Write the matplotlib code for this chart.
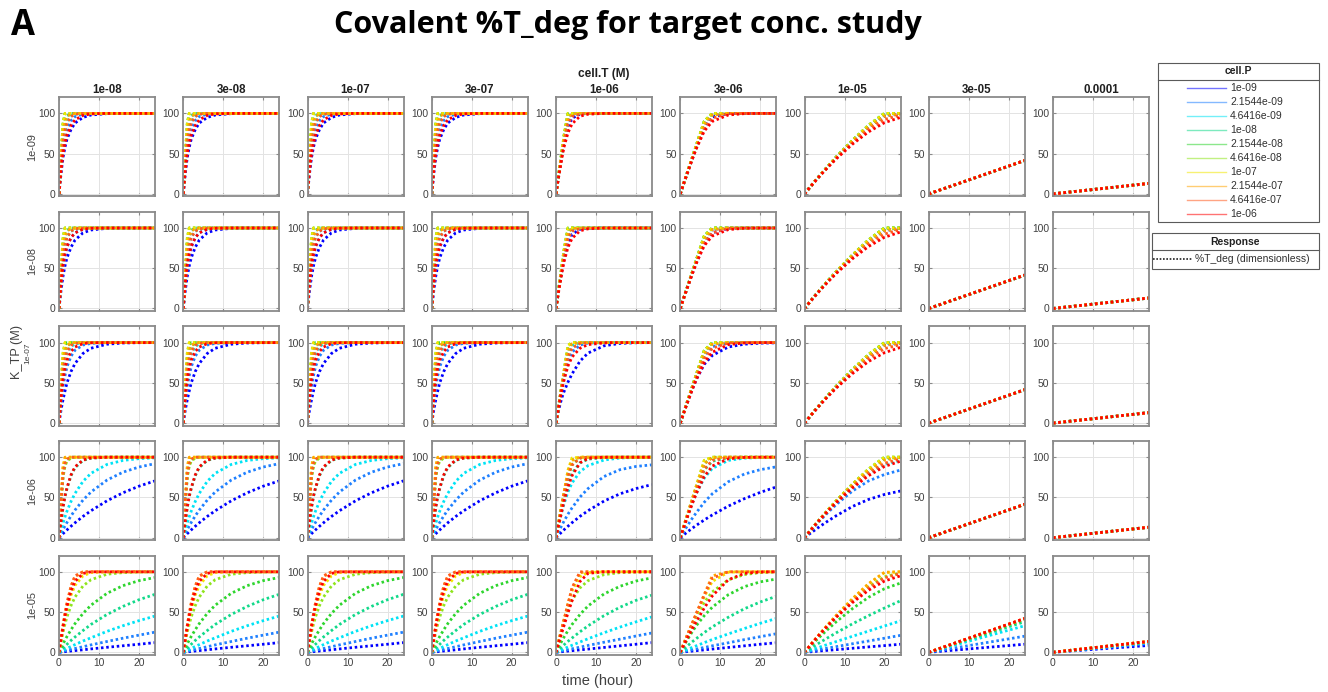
import matplotlib
matplotlib.use("Agg")
import matplotlib.pyplot as plt
from matplotlib.lines import Line2D
from matplotlib.patches import Rectangle

plt.rcParams['font.family'] = ['Liberation Sans', 'DejaVu Sans']

# ---------------- data ----------------
hours = [0, 0.5, 1, 1.5, 2, 3, 4, 6, 8, 12, 16, 20, 24]
cell_T = ['1e-08', '3e-08', '1e-07', '3e-07', '1e-06', '3e-06', '1e-05', '3e-05', '0.0001']
K_TP = ['1e-09', '1e-08', '1e-07', '1e-06', '1e-05']
cell_P = ['1e-09', '2.1544e-09', '4.6416e-09', '1e-08', '2.1544e-08',
          '4.6416e-08', '1e-07', '2.1544e-07', '4.6416e-07', '1e-06']
colors_P = ['#0000FF', '#1F80FF', '#00E3F5', '#12D98A', '#2ED52E',
            '#8EE41C', '#F2E600', '#FFA500', '#FF5A1E', '#FF0000']

# %T_deg at the hours above; a list that stops early stays at 100 afterwards
# columns cell.T = 1e-08 ... 3e-07
K1e9_Tlow = [
    [0, 25, 45, 58, 68, 80, 88, 95, 98, 99.7, 100],
    [0, 30, 55, 69, 80, 91, 96, 99, 100],
    [0, 37, 68, 83, 90, 97, 99, 100],
    [0, 42, 78, 93, 97, 100],
    [0, 45, 86, 100],
    [0, 46, 88, 100],
    [0, 45, 86, 100],
    [0, 42, 75, 89, 96, 99.5, 100],
    [0, 36, 62, 78, 88, 96, 99, 100],
    [0, 28, 50, 63, 73, 85, 92, 97.5, 99.3, 100],
]
K1e8_Tlow = [
    [0, 22, 40, 53, 63, 76, 85, 94, 97.5, 99.6, 100],
    [0, 28, 51, 65, 76, 88, 94, 98.5, 99.7, 100],
    [0, 35, 64, 80, 89, 96, 98.5, 100],
    [0, 41, 76, 91, 97, 100],
    [0, 45, 85, 100],
    [0, 46, 88, 100],
    [0, 45, 86, 100],
    [0, 42, 75, 89, 96, 99.5, 100],
    [0, 36, 62, 78, 88, 96, 99, 100],
    [0, 30, 53, 67, 77, 88, 94, 98.5, 99.6, 100],
]
K1e7_Tlow = [
    [0, 16, 29, 40, 50, 64, 74, 86.5, 93, 98, 99.5, 99.9, 100],
    [0, 25, 45, 59, 70, 83, 90.5, 97, 99, 100],
    [0, 34, 60, 76, 86, 95, 98.3, 100],
    [0, 40, 73, 89, 95.5, 99.3, 100],
    [0, 44, 83, 97, 100],
    [0, 46, 87, 100],
    [0, 45, 86, 100],
    [0, 42, 76, 90, 96.5, 99.5, 100],
    [0, 36, 63, 79, 89, 96.5, 99, 100],
    [0, 30, 53, 68, 78, 89, 94.5, 98.7, 99.7, 100],
]
K1e6_Tlow = [
    [0, 2.5, 5, 7.4, 9.7, 14.2, 18.5, 26.4, 33.5, 45.8, 55.8, 64, 70.6],
    [0, 5.1, 10, 14.6, 19, 27, 34.3, 46.7, 56.8, 71.6, 81.4, 87.8, 92],
    [0, 9.5, 18, 26, 33, 45, 55, 70, 80, 91, 96, 98.2, 99.2],
    [0, 19, 37, 51, 61, 77, 87, 96, 98.8, 100],
    [0, 40, 76, 91, 97, 100],
    [0, 45, 75, 89, 95, 99, 100],
    [0, 48, 87, 99, 100],
    [0, 47, 88, 100],
    [0, 42, 78, 92, 97.5, 100],
    [0, 20, 38, 52, 62, 78, 88, 96.5, 99, 100],
]
K1e5_Tlow = [
    [0, 0.27, 0.53, 0.8, 1.06, 1.6, 2.1, 3.1, 4.2, 6.2, 8.1, 10, 12],
    [0, 0.6, 1.2, 1.8, 2.4, 3.5, 4.7, 6.9, 9.2, 13.4, 17.5, 21.3, 25],
    [0, 1.2, 2.5, 3.7, 4.9, 7.2, 9.5, 14, 18, 26, 33, 39.3, 45],
    [0, 2.6, 5.2, 7.6, 10, 14.7, 19, 27, 34.6, 47, 57, 65.3, 72],
    [0, 5.4, 10.4, 15.2, 19.7, 28, 35.6, 48.3, 58.5, 73.3, 82.8, 89, 92.9],
    [0, 13.5, 25, 35, 44, 58, 68.6, 82.4, 90.2, 97, 99, 99.7, 99.9],
    [0, 15, 29, 42, 53, 71, 83, 95, 99, 100],
    [0, 17, 33, 48, 61, 82, 94, 100],
    [0, 17, 33, 48, 61, 82, 95, 100],
    [0, 16, 31, 45, 57, 76, 88, 98, 100],
]

# column cell.T = 1e-06
K1e9_T1e6 = [
    [0, 17, 33, 49, 63, 84, 94, 99, 100],
    [0, 17, 34, 50, 66, 89, 97, 99.7, 100],
    [0, 18, 35, 52, 69, 95, 99.5, 100],
    [0, 18, 36, 53, 71, 99, 100],
    [0, 18, 36, 54, 72, 100],
    [0, 18, 36, 54, 72, 100],
    [0, 18, 36, 54, 72, 100],
    [0, 17, 34, 51, 67, 94, 99.5, 100],
    [0, 17, 33, 49, 64, 87, 96, 99.5, 100],
    [0, 16, 31, 45, 58, 76, 87, 96.5, 99, 100],
]
K1e8_T1e6 = [
    [0, 17, 33, 48, 61, 81, 92, 98.5, 99.7, 100],
    [0, 17, 34, 50, 65, 87, 96, 99.5, 100],
    [0, 18, 35, 52, 69, 95, 99.5, 100],
    [0, 18, 36, 53, 71, 99, 100],
    [0, 18, 36, 54, 72, 100],
    [0, 18, 36, 54, 72, 100],
    [0, 18, 36, 54, 72, 100],
    [0, 17, 34, 51, 67, 94, 99.5, 100],
    [0, 17, 33, 49, 64, 87, 96, 99.5, 100],
    [0, 16, 31, 45, 58, 76, 87, 96.5, 99, 100],
]
K1e7_T1e6 = [
    [0, 12, 23, 32, 39, 51, 61, 77, 87, 96, 99, 99.8, 100],
    [0, 15, 29.5, 43, 55.5, 76, 88, 97, 99.4, 100],
    [0, 16, 31.5, 46.5, 61, 86, 96, 99.7, 100],
    [0, 16, 32, 47.5, 63, 92, 99.3, 100],
    [0, 16, 32, 48, 64, 96, 100],
    [0, 16, 32, 48, 64, 96.5, 100],
    [0, 16, 32, 48, 64, 96.5, 100],
    [0, 16, 32, 48, 63, 90, 98.5, 100],
    [0, 16, 31, 46, 59, 82, 93, 99, 100],
    [0, 15, 29, 42, 53, 71, 82, 93, 97.5, 99.6, 100],
]
K1e6_T1e6 = [
    [0, 2.5, 5, 7.4, 9.8, 14.3, 18.6, 26.5, 33.5, 45.5, 54.5, 61, 66],
    [0, 5.5, 10.8, 15.8, 20.5, 29.3, 37, 50.5, 61, 76, 84.5, 88.5, 90.5],
    [0, 12, 23, 33, 42, 57, 68, 82, 89.5, 96.5, 99, 99.7, 100],
    [0, 13, 26, 38, 49, 68, 80, 93, 97.5, 99.7, 100],
    [0, 14, 28, 42, 55, 78, 91, 99, 100],
    [0, 14, 28, 42, 56, 83, 97, 100],
    [0, 14, 28, 42, 56, 84, 99, 100],
    [0, 14, 28, 42, 56, 82, 96, 100],
    [0, 14, 27, 40, 53, 76, 90, 99, 100],
    [0, 12, 23, 34, 45, 63, 77, 93, 98.5, 100],
]
K1e5_T1e6 = [
    [0, 0.25, 0.5, 0.75, 1, 1.5, 2, 3, 4, 6, 8, 10, 12],
    [0, 0.55, 1.1, 1.6, 2.2, 3.2, 4.3, 6.4, 8.5, 12.5, 16.3, 20.2, 24],
    [0, 1.1, 2.2, 3.3, 4.4, 6.6, 8.7, 12.8, 16.8, 24.3, 31.3, 37.8, 44],
    [0, 2.4, 4.8, 7, 9.3, 13.6, 17.7, 25.5, 32.8, 45.5, 56, 64.5, 71],
    [0, 5, 9.8, 14.4, 18.8, 27, 34.5, 47, 57.5, 72.5, 82, 88.5, 92.5],
    [0, 11, 21, 30, 38.5, 53, 64.5, 80, 89, 96.5, 99, 99.7, 100],
    [0, 10, 20, 30, 40, 60, 76, 94, 99, 100],
    [0, 10, 20, 30, 40, 60, 79, 99, 100],
    [0, 10, 20, 30, 40, 60, 80, 100],
    [0, 8.5, 17, 25, 33, 49, 64, 88, 98, 100],
]

# column cell.T = 3e-06
K1e9_T3e6 = [
    [0, 7.3, 14.5, 21.8, 29, 43.5, 57.5, 83, 95.5, 99.8, 100],
    [0, 7.5, 15, 22.5, 30, 44.5, 59, 86.5, 98, 100],
    [0, 7.5, 15, 22.5, 30, 45, 60, 89, 99.7, 100],
    [0, 7.5, 15, 22.5, 30, 45, 60, 90, 100],
    [0, 7.5, 15, 22.5, 30, 45, 60, 90, 100],
    [0, 7.5, 15, 22.5, 30, 45, 60, 90, 100],
    [0, 7.5, 15, 22.5, 30, 45, 60, 90, 100],
    [0, 7.5, 15, 22.3, 29.7, 44.5, 59, 86, 98, 100],
    [0, 7.3, 14.5, 21.8, 29, 43, 56.5, 80, 94, 99.7, 100],
    [0, 7.5, 15, 22, 29, 43, 56, 78, 90, 98, 99.7, 100],
]
K1e8_T3e6 = [
    [0, 7.3, 14.5, 21.7, 28.8, 43, 56.5, 81, 94, 99.5, 100],
    [0, 7.5, 15, 22.5, 30, 44.5, 59, 86.5, 98, 100],
    [0, 7.5, 15, 22.5, 30, 45, 60, 89, 99.7, 100],
    [0, 7.5, 15, 22.5, 30, 45, 60, 90, 100],
    [0, 7.5, 15, 22.5, 30, 45, 60, 90, 100],
    [0, 7.5, 15, 22.5, 30, 45, 60, 90, 100],
    [0, 7.5, 15, 22.5, 30, 45, 60, 90, 100],
    [0, 7.5, 15, 22.3, 29.7, 44.5, 59, 86, 98, 100],
    [0, 7.3, 14.5, 21.8, 29, 43, 56.5, 80, 94, 99.7, 100],
    [0, 7.5, 15, 22, 29, 43, 56, 78, 90, 98, 99.7, 100],
]
K1e7_T3e6 = [
    [0, 7.3, 14.5, 21.5, 28.5, 42, 54, 73, 84, 94.5, 98, 99.3, 99.7],
    [0, 7.5, 15, 22.5, 30, 44.5, 58.5, 84, 95, 99.5, 100],
    [0, 7.5, 15, 22.5, 30, 45, 60, 88, 99, 100],
    [0, 7.5, 15, 22.5, 30, 45, 60, 90, 100],
    [0, 7.5, 15, 22.5, 30, 45, 60, 90, 100],
    [0, 7.5, 15, 22.5, 30, 45, 60, 90, 100],
    [0, 7.5, 15, 22.5, 30, 45, 60, 90, 100],
    [0, 7.5, 15, 22.3, 29.7, 44.5, 59, 86, 98, 100],
    [0, 7.3, 14.5, 21.8, 29, 43, 56.5, 80, 93, 99.5, 100],
    [0, 7.2, 14.3, 21.3, 28, 41.5, 54, 75, 88, 97.5, 99.5, 100],
]
K1e6_T3e6 = [
    [0, 2.05, 4.06, 6, 7.95, 11.7, 15.3, 22, 28.2, 39.2, 48.4, 56.3, 63],
    [0, 4.3, 8.5, 12.6, 16.5, 24, 31, 44, 54.5, 69.5, 79, 84.5, 88],
    [0, 7.5, 15, 22.5, 29.5, 43, 55, 74, 86, 96, 98.8, 99.6, 99.9],
    [0, 7.5, 15, 22.5, 30, 45, 59, 84, 95, 99.5, 100],
    [0, 7.7, 15.4, 23, 30.7, 46, 61.5, 92, 100],
    [0, 8, 16, 24, 32, 48, 64, 96, 100],
    [0, 8, 16, 24, 32, 48, 64, 96, 100],
    [0, 8, 16, 24, 32, 47.5, 63, 92, 99.5, 100],
    [0, 7.7, 15.4, 23, 30.5, 45.5, 59.5, 85, 96, 100],
    [0, 7.2, 14.5, 21.5, 28.5, 42, 54.5, 76, 89, 98, 99.7, 100],
]
K1e5_T3e6 = [
    [0, 0.25, 0.5, 0.75, 1, 1.5, 2, 3, 4, 6, 8, 10, 11.8],
    [0, 0.5, 1, 1.5, 2, 3, 4, 6, 8, 11.8, 15.7, 19.4, 23],
    [0, 1, 2, 3, 4, 6, 8, 12, 15.8, 22.8, 29.5, 36, 42],
    [0, 2.2, 4.4, 6.6, 8.8, 13, 17, 24.5, 31.5, 43.5, 54, 62.5, 69.5],
    [0, 4.5, 9, 13.3, 17.5, 25.5, 33, 45.5, 56, 71.5, 81.5, 87.5, 91],
    [0, 6, 12, 17.8, 23.5, 34.5, 44.5, 62, 75, 90, 96.5, 99, 99.8],
    [0, 6, 12, 18, 24, 35.5, 47, 69, 88, 99.5, 100],
    [0, 6, 12, 18, 24, 36, 48, 72, 95, 100],
    [0, 6, 12, 18, 24, 36, 48, 71, 92, 100],
    [0, 5, 10, 14.8, 19.5, 29, 38, 55, 70, 90, 98, 99.7, 100],
]

# column cell.T = 1e-05
K1e9_T1e5 = [
    [0, 3.1, 6.1, 9.1, 12.1, 18, 23.7, 34.8, 45.4, 65.3, 83, 96.5, 99.5],
    [0, 3.1, 6.1, 9.2, 12.2, 18.1, 23.8, 35, 45.8, 66, 84.3, 98.5, 100],
    [0, 3.1, 6.1, 9.2, 12.2, 18.1, 23.9, 35.2, 46, 66.3, 84.7, 99.5, 100],
    [0, 3.1, 6.1, 9.2, 12.2, 18.1, 23.9, 35.2, 46.1, 66.5, 85.1, 100],
    [0, 3.1, 6.1, 9.2, 12.2, 18.1, 23.9, 35.2, 46.1, 66.5, 85.1, 100],
    [0, 3.1, 6.1, 9.2, 12.2, 18.1, 23.9, 35.2, 46.1, 66.5, 85.1, 100],
    [0, 3.1, 6.1, 9.2, 12.2, 18.1, 23.9, 35.2, 46.1, 66.5, 85.1, 100],
    [0, 3.1, 6.1, 9.1, 12.1, 18, 23.7, 34.8, 45.4, 65.3, 83, 96.5, 99.5],
    [0, 3, 6, 9, 12, 17.8, 23.5, 34.3, 44.6, 63.5, 80, 92.5, 98],
    [0, 3, 6, 9, 11.9, 17.6, 23.2, 33.8, 43.8, 61.8, 77, 88.5, 95],
]
K1e8_T1e5 = [row[:] for row in K1e9_T1e5]
K1e7_T1e5 = [
    [0, 3.1, 6.1, 9.1, 12.1, 18, 23.7, 34.8, 45.4, 65.3, 83, 96.5, 99.5],
    [0, 3.1, 6.1, 9.2, 12.2, 18.1, 23.8, 35, 45.8, 66, 84.3, 98.5, 100],
    [0, 3.1, 6.1, 9.2, 12.2, 18.1, 23.9, 35.2, 46, 66.3, 84.7, 99.5, 100],
    [0, 3.1, 6.1, 9.2, 12.2, 18.1, 23.9, 35.2, 46.1, 66.5, 85.1, 100],
    [0, 3.1, 6.1, 9.2, 12.2, 18.1, 23.9, 35.2, 46.1, 66.5, 85.1, 100],
    [0, 3.1, 6.1, 9.2, 12.2, 18.1, 23.9, 35.2, 46.1, 66.5, 85.1, 100],
    [0, 3.1, 6.1, 9.2, 12.2, 18.1, 23.9, 35.2, 46.1, 66.5, 85.1, 100],
    [0, 3.1, 6.1, 9.1, 12.1, 18, 23.7, 34.8, 45.4, 65.3, 83, 96.5, 99.5],
    [0, 3, 6, 9, 12, 17.8, 23.5, 34.3, 44.6, 63.5, 80, 92.5, 97.5],
    [0, 3, 6, 9, 11.9, 17.6, 23.2, 33.8, 43.8, 61.5, 76.5, 87.5, 94],
]
K1e6_T1e5 = [
    [0, 1.9, 3.8, 5.6, 7.4, 11, 14.5, 21.2, 27.5, 38.8, 47.5, 53.7, 58],
    [0, 2.8, 5.6, 8.4, 11.2, 16.6, 21.9, 32, 41.5, 58, 70.5, 78.5, 84],
    [0, 3, 6, 9, 12, 17.8, 23.5, 34.5, 45, 64, 80, 91, 96],
    [0, 3.1, 6.1, 9.2, 12.2, 18.1, 23.9, 35.2, 46, 66.3, 84.5, 98, 100],
    [0, 3.1, 6.1, 9.2, 12.2, 18.1, 23.9, 35.2, 46.1, 66.5, 85.1, 100],
    [0, 3.1, 6.1, 9.2, 12.2, 18.1, 23.9, 35.2, 46.1, 66.5, 85.1, 100],
    [0, 3.1, 6.1, 9.2, 12.2, 18.1, 23.9, 35.2, 46.1, 66.5, 85.1, 100],
    [0, 3.1, 6.1, 9.1, 12.1, 18, 23.7, 34.8, 45.4, 65.3, 83, 96.5, 99.5],
    [0, 3, 6, 9, 12, 17.8, 23.5, 34.3, 44.6, 63.5, 80, 92.5, 98],
    [0, 3, 6, 9, 11.9, 17.6, 23.2, 33.8, 43.8, 61.8, 77, 88.5, 95],
]
K1e5_T1e5 = [
    [0, 0.2, 0.4, 0.6, 0.8, 1.25, 1.7, 2.5, 3.3, 5, 6.7, 8.3, 10],
    [0, 0.45, 0.9, 1.35, 1.8, 2.7, 3.6, 5.4, 7.1, 10.6, 14, 17.5, 21],
    [0, 0.85, 1.7, 2.6, 3.4, 5.1, 6.8, 10.1, 13.4, 19.9, 26.3, 32.7, 39],
    [0, 1.6, 3.2, 4.8, 6.4, 9.5, 12.6, 18.6, 24.4, 35.4, 45.5, 55, 64],
    [0, 2.6, 5.2, 7.7, 10.2, 15.2, 20, 29.3, 38.2, 54.3, 68.3, 79, 86],
    [0, 3, 6, 9, 11.9, 17.7, 23.4, 34.4, 45, 64.5, 81.5, 94, 98.5],
    [0, 3.1, 6.1, 9.2, 12.2, 18.1, 23.9, 35.2, 46.1, 66.5, 85.1, 99, 100],
    [0, 3.1, 6.1, 9.2, 12.2, 18.1, 23.9, 35.2, 46.1, 66.5, 85.1, 99.5, 100],
    [0, 3, 6, 9, 12, 17.8, 23.5, 34.3, 44.6, 63.5, 80, 92.5, 98],
    [0, 3, 6, 9, 11.9, 17.6, 23.2, 33.8, 43.8, 61.8, 77, 88.5, 95],
]

# columns cell.T = 3e-05 and 1e-04: straight lines, %T_deg reached at 24 h
K1e9_T3e5_24h = [41.5, 41.5, 41.5, 41.5, 41.5, 41.5, 41.5, 41.5, 41.5, 41.5]
K1e8_T3e5_24h = [41.5, 41.5, 41.5, 41.5, 41.5, 41.5, 41.5, 41.5, 41.5, 41.5]
K1e7_T3e5_24h = [41.5, 41.5, 41.5, 41.5, 41.5, 41.5, 41.5, 41.5, 41.5, 41.5]
K1e6_T3e5_24h = [41.5, 41.5, 41.5, 41.5, 41.5, 41.5, 41.5, 41.5, 41.5, 41.5]
K1e5_T3e5_24h = [10, 20, 33, 38, 40.5, 41.5, 42, 42, 42, 42]
K1e9_T1e4_24h = [13, 13, 13, 13, 13, 13, 13, 13, 13, 13]
K1e8_T1e4_24h = [13, 13, 13, 13, 13, 13, 13, 13, 13, 13]
K1e7_T1e4_24h = [13, 13, 13, 13, 13, 13, 13, 13, 13, 13]
K1e6_T1e4_24h = [13, 13, 13, 13, 13, 13, 13, 13, 13, 13]
K1e5_T1e4_24h = [8.5, 11, 12, 12.8, 13.2, 13.4, 13.5, 13.5, 13.5, 13.5]

row_curves = [
    [K1e9_Tlow] * 4 + [K1e9_T1e6, K1e9_T3e6, K1e9_T1e5],
    [K1e8_Tlow] * 4 + [K1e8_T1e6, K1e8_T3e6, K1e8_T1e5],
    [K1e7_Tlow] * 4 + [K1e7_T1e6, K1e7_T3e6, K1e7_T1e5],
    [K1e6_Tlow] * 4 + [K1e6_T1e6, K1e6_T3e6, K1e6_T1e5],
    [K1e5_Tlow] * 4 + [K1e5_T1e6, K1e5_T3e6, K1e5_T1e5],
]
row_lines = [
    [K1e9_T3e5_24h, K1e9_T1e4_24h],
    [K1e8_T3e5_24h, K1e8_T1e4_24h],
    [K1e7_T3e5_24h, K1e7_T1e4_24h],
    [K1e6_T3e5_24h, K1e6_T1e4_24h],
    [K1e5_T3e5_24h, K1e5_T1e4_24h],
]


def full(v):
    return list(v) + [100.0] * (len(hours) - len(v))


# ---------------- figure ----------------
W, H = 1328, 692
fig = plt.figure(figsize=(W / 100, H / 100), dpi=100)

AX_L, AX_DX, AX_W = 59.0, 124.25, 96.0
AX_T, AX_DY, AX_H = 97.3, 114.6, 99.0
EDGE = '#8a8a8a'
LBL = '#404040'
DOT = dict(lw=2.0, linestyle=(0, (0.9, 1.0)))


def fx(x):
    return x / W


def fy(y):
    return 1 - y / H


for r in range(5):
    for c in range(9):
        left = AX_L + AX_DX * c
        top = AX_T + AX_DY * r
        ax = fig.add_axes([fx(left), fy(top + AX_H), AX_W / W, AX_H / H])
        if c < 7:
            for i, vals in enumerate(row_curves[r][c]):
                ax.plot(hours, full(vals), color=colors_P[i], **DOT)
        else:
            for i, v in enumerate(row_lines[r][c - 7]):
                ax.plot([hours[0], hours[-1]], [0, v], color=colors_P[i], **DOT)
        ax.set_xlim(0, 24)
        ax.set_ylim(-3, 120)
        ax.set_xticks([0, 10, 20])
        ax.set_yticks([0, 50, 100])
        ax.grid(True, color='#e3e3e3', lw=0.7)
        ax.set_axisbelow(True)
        ax.tick_params(direction='in', length=2.5, width=0.8, color=EDGE,
                       top=True, right=True, labelsize=7.4, labelcolor=LBL, pad=2.5)
        if r < 4:
            ax.set_xticklabels([])
        for s in ax.spines.values():
            s.set_color(EDGE)
            s.set_linewidth(1.3)
        if r == 0:
            fig.text(fx(left + AX_W / 2), fy(90), cell_T[c], ha='center', va='center',
                     fontsize=8.3, fontweight='bold', color='#202020')
    if r == 2:
        fig.text(fx(28), fy(353), K_TP[r], rotation=90, ha='center', va='center',
                 fontsize=6.0, color=LBL)
    else:
        fig.text(fx(32), fy(AX_T + AX_DY * r + AX_H / 2), K_TP[r], rotation=90,
                 ha='center', va='center', fontsize=7.8, color=LBL)

fig.text(fx(17), fy(352), 'K_TP (M)', rotation=90, ha='center', va='center',
         fontsize=9.2, color=LBL)
fig.text(fx(604), fy(74), 'cell.T (M)', ha='center', va='center',
         fontsize=8.6, fontweight='bold', color='#202020')
fig.text(fx(598), fy(681), 'time (hour)', ha='center', va='center',
         fontsize=10.5, color=LBL)

fig.text(fx(628), fy(25), 'Covalent %T_deg for target conc. study', ha='center',
         va='center', fontsize=22, fontweight='bold', family=['Open Sans', 'DejaVu Sans'])
fig.text(fx(23), fy(26), 'A', ha='center', va='center', fontsize=25,
         fontweight='bold', family=['Open Sans', 'DejaVu Sans'])

# ---------------- legend boxes ----------------
def box(x0, y0, x1, y1, ysep):
    fig.add_artist(Rectangle((fx(x0), fy(y1)), fx(x1) - fx(x0), fy(y0) - fy(y1),
                             transform=fig.transFigure, fill=False,
                             edgecolor='#5a5a5a', lw=0.8))
    fig.add_artist(Line2D([fx(x0), fx(x1)], [fy(ysep), fy(ysep)],
                          transform=fig.transFigure, color='#5a5a5a', lw=0.8))


box(1157.5, 62.5, 1319, 222, 79.5)
fig.text(fx(1238), fy(71), 'cell.P', ha='center', va='center', fontsize=7.5,
         fontweight='bold', color='#202020')
for i, lab in enumerate(cell_P):
    y = 88.3 + 14.0 * i
    fig.add_artist(Line2D([fx(1187), fx(1226)], [fy(y), fy(y)], transform=fig.transFigure,
                          color=colors_P[i], lw=1.0, alpha=0.55))
    fig.text(fx(1230), fy(y), lab, ha='left', va='center', fontsize=7.5, color='#303030')

box(1151.5, 233, 1318.5, 268.5, 250)
fig.text(fx(1235), fy(242), 'Response', ha='center', va='center', fontsize=7.5,
         fontweight='bold', color='#202020')
fig.add_artist(Line2D([fx(1153), fx(1193)], [fy(259), fy(259)], transform=fig.transFigure,
                      color='#202020', lw=1.2, linestyle=(0, (1, 1))))
fig.text(fx(1195), fy(259), '%T_deg (dimensionless)', ha='left', va='center',
         fontsize=7.5, color='#303030')

fig.savefig('out.png', dpi=100)
